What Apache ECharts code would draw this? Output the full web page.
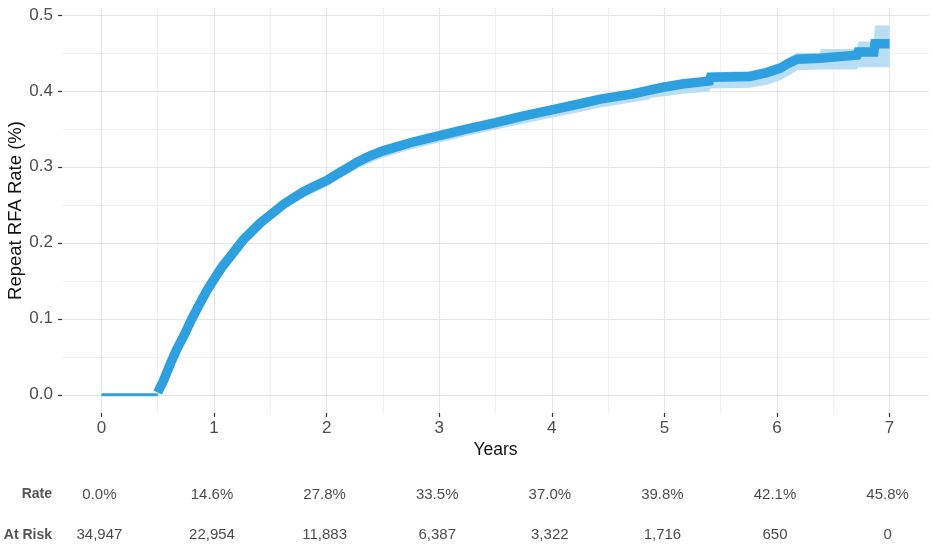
<!DOCTYPE html>
<html>
<head>
<meta charset="utf-8">
<script src="https://cdn.jsdelivr.net/npm/echarts@6/dist/echarts.min.js"></script>
<style>html,body{margin:0;padding:0;background:#fff}#c{width:933px;height:546px}</style>
</head>
<body>
<div id="c"></div>
<script>
// ---- data ----
const xTicks = [0, 1, 2, 3, 4, 5, 6, 7];
const xMinorTicks = [0.5, 1.5, 2.5, 3.5, 4.5, 5.5, 6.5];
const yTicks = [0, 0.1, 0.2, 0.3, 0.4, 0.5];
const yMinorTicks = [0.05, 0.15, 0.25, 0.35, 0.45];

const flatYears = [0, 0.5];
const flatRate = [0, 0];

const years = [0.50,0.55,0.61,0.67,0.73,0.80,0.87,0.94,1.00,1.07,1.15,1.26,1.41,1.52,1.62,1.79,1.90,2.00,2.10,2.18,2.27,2.38,2.50,2.75,3.00,3.25,3.50,3.75,4.00,4.25,4.43,4.72,4.87,4.88,5.00,5.16,5.40,5.41,5.76,5.91,6.03,6.10,6.18,6.38,6.39,6.71,6.72,6.86,6.87,7.00];
const rate  = [0.003,0.018,0.040,0.060,0.077,0.099,0.119,0.138,0.152,0.168,0.183,0.204,0.226,0.239,0.251,0.267,0.275,0.282,0.291,0.298,0.306,0.314,0.321,0.332,0.341,0.350,0.358,0.367,0.375,0.383,0.389,0.396,0.401,0.403,0.405,0.409,0.413,0.418,0.419,0.424,0.430,0.436,0.4415,0.443,0.4455,0.447,0.451,0.451,0.462,0.462];
const lower = [-0.003,0.011,0.033,0.053,0.070,0.092,0.112,0.131,0.145,0.161,0.176,0.197,0.219,0.232,0.244,0.259,0.267,0.274,0.283,0.290,0.297,0.305,0.312,0.323,0.332,0.341,0.349,0.357,0.365,0.372,0.378,0.385,0.389,0.391,0.393,0.396,0.399,0.403,0.404,0.408,0.414,0.420,0.427,0.428,0.428,0.428,0.431,0.431,0.431,0.431];
const upper = [0.007,0.023,0.045,0.065,0.082,0.104,0.124,0.143,0.157,0.173,0.188,0.209,0.231,0.244,0.256,0.272,0.280,0.287,0.296,0.303,0.311,0.319,0.326,0.337,0.346,0.355,0.363,0.372,0.380,0.388,0.394,0.401,0.406,0.408,0.410,0.414,0.419,0.424,0.426,0.431,0.437,0.444,0.450,0.450,0.455,0.455,0.465,0.465,0.486,0.486];

const tableYears = [0, 1, 2, 3, 4, 5, 6, 7];
const rateLabels = ['0.0%','14.6%','27.8%','33.5%','37.0%','39.8%','42.1%','45.8%'];
const atRiskLabels = ['34,947','22,954','11,883','6,387','3,322','1,716','650','0'];
const rowNames = ['At Risk', 'Rate'];

// ---- chart ----
const FONT = 'Liberation Sans, Arial, sans-serif';
const LINE = '#2E9FDF';
const X_MIN = -0.35, X_MAX = 7.35, Y_MIN = -0.024, Y_MAX = 0.509;

const chart = echarts.init(document.getElementById('c'), null, {renderer: 'canvas'});

const tableData = [];
tableYears.forEach((y, i) => {
  tableData.push([y, 'Rate', rateLabels[i]]);
  tableData.push([y, 'At Risk', atRiskLabels[i]]);
});

const option = {
  animation: false,
  backgroundColor: '#ffffff',
  textStyle: {fontFamily: FONT},
  grid: [
    {left: 62, right: 4, top: 8, bottom: 133, containLabel: false, outerBoundsMode: 'none'},
    {left: 62, right: 4, top: 494.5, height: 40.5, containLabel: false, outerBoundsMode: 'none'}
  ],
  xAxis: [
    {
      type: 'value', gridIndex: 0, min: X_MIN, max: X_MAX,
      name: 'Years', nameLocation: 'middle', nameGap: 28, nameMoveOverlap: false,
      nameTextStyle: {fontSize: 17.5, color: '#111', fontFamily: FONT},
      axisLine: {show: false, onZero: false},
      axisTick: {show: true, customValues: xTicks, length: 4, lineStyle: {color: '#333', width: 1.2}},
      axisLabel: {show: true, customValues: xTicks, margin: 7, fontSize: 17, color: '#4d4d4d', fontFamily: FONT},
      splitLine: {show: true, lineStyle: {color: '#e6e6e6', width: 1.1}}
    },
    {
      type: 'value', gridIndex: 0, min: X_MIN, max: X_MAX, position: 'bottom',
      axisLine: {show: false, onZero: false},
      axisTick: {show: false, customValues: xMinorTicks},
      axisLabel: {show: false, customValues: xMinorTicks},
      splitLine: {show: true, lineStyle: {color: '#f0f0f0', width: 1}}
    },
    {
      type: 'value', gridIndex: 1, min: X_MIN, max: X_MAX, show: false
    }
  ],
  yAxis: [
    {
      type: 'value', gridIndex: 0, min: Y_MIN, max: Y_MAX,
      name: 'Repeat RFA Rate (%)', nameLocation: 'middle', nameGap: 37, nameRotate: 90, nameMoveOverlap: false,
      nameTextStyle: {fontSize: 18.5, color: '#111', fontFamily: FONT},
      axisLine: {show: false, onZero: false},
      axisTick: {show: true, customValues: yTicks, length: 4, lineStyle: {color: '#333', width: 1.2}},
      axisLabel: {show: true, customValues: yTicks, margin: 9, fontSize: 17, color: '#4d4d4d', fontFamily: FONT,
        formatter: v => v.toFixed(1)},
      splitLine: {show: true, lineStyle: {color: '#e6e6e6', width: 1.1}}
    },
    {
      type: 'value', gridIndex: 0, min: Y_MIN, max: Y_MAX, position: 'left',
      axisLine: {show: false, onZero: false},
      axisTick: {show: false, customValues: yMinorTicks},
      axisLabel: {show: false, customValues: yMinorTicks},
      splitLine: {show: true, lineStyle: {color: '#f0f0f0', width: 1}}
    },
    {
      type: 'category', gridIndex: 1, data: rowNames, boundaryGap: false,
      axisLine: {show: false, onZero: false}, axisTick: {show: false}, splitLine: {show: false},
      axisLabel: {margin: 10, fontSize: 14, fontWeight: 'bold', color: '#555', fontFamily: FONT}
    }
  ],
  series: [
    {
      type: 'custom', xAxisIndex: 0, yAxisIndex: 0, z: 1, silent: true,
      data: [[years[0], rate[0]]],
      renderItem: function (params, api) {
        const pts = [];
        for (let i = 0; i < years.length; i++) pts.push(api.coord([years[i], upper[i]]));
        for (let i = years.length - 1; i >= 0; i--) pts.push(api.coord([years[i], lower[i]]));
        return {type: 'polygon', shape: {points: pts}, style: {fill: '#b9ddf3'}};
      }
    },
    {
      type: 'line', xAxisIndex: 0, yAxisIndex: 0, z: 3, symbol: 'none',
      data: flatYears.map((x, i) => [x, flatRate[i]]),
      lineStyle: {color: LINE, width: 3}
    },
    {
      type: 'line', xAxisIndex: 0, yAxisIndex: 0, z: 3, symbol: 'none',
      data: years.map((x, i) => [x, rate[i]]),
      lineStyle: {color: LINE, width: 9.5, cap: 'butt', join: 'miter'}
    },
    {
      type: 'scatter', xAxisIndex: 2, yAxisIndex: 2, symbolSize: 0, silent: true,
      data: tableData,
      label: {show: true, position: 'inside', offset: [-2, 0], formatter: p => p.value[2],
        fontSize: 15, color: '#1a1a1a', fontFamily: FONT}
    }
  ]
};
chart.setOption(option);
</script>
</body>
</html>
